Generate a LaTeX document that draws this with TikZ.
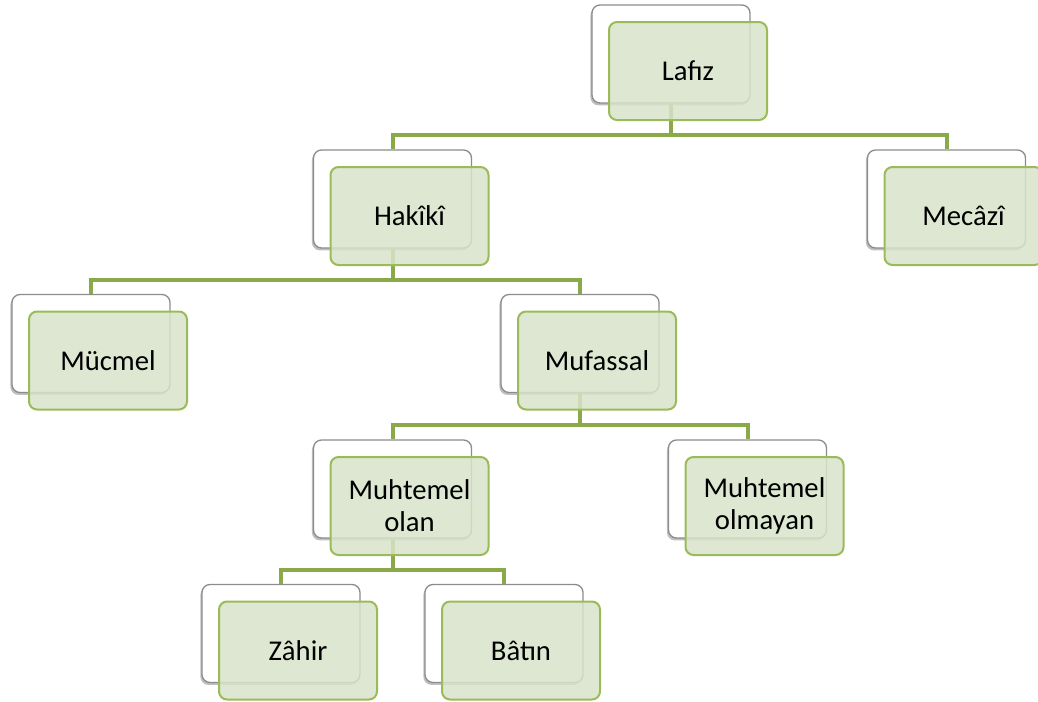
\documentclass[tikz,border=0pt]{standalone}
\usepackage{fontspec}
\setmainfont{Carlito}
\usetikzlibrary{shadows}

\definecolor{leafgreen}{RGB}{155,187,89}
\definecolor{linkgreen}{RGB}{138,170,74}
\definecolor{panelgreen}{RGB}{216,227,202}

\tikzset{
  backbox/.style={rectangle, rounded corners=6pt, minimum width=118.5pt,
    minimum height=73.5pt, inner sep=0pt, fill=white, draw=black!45,
    line width=1pt,
    drop shadow={shadow xshift=-1.2pt, shadow yshift=-1.8pt, opacity=0.5}},
  frontbox/.style={rectangle, rounded corners=6pt, minimum width=118.5pt,
    minimum height=73.5pt, inner sep=2pt, align=center,
    fill=panelgreen, fill opacity=0.85, text opacity=1, draw=leafgreen,
    line width=1.5pt, xshift=12.75pt, yshift=-12.75pt,
    font=\fontsize{21.5}{24}\selectfont},
  link/.style={linkgreen, line width=3pt}
}

\begin{document}
\begin{tikzpicture}[x=0.75pt, y=-0.75pt]
\useasboundingbox (0,0) rectangle (1038,701);

% back cards
\node[backbox] (lafizB)   at (671,54)    {};
\node[backbox] (hakikiB)  at (392.5,199) {};
\node[backbox] (mecaziB)  at (946.5,199) {};
\node[backbox] (mucmelB)  at (91,343.5)  {};
\node[backbox] (mufassalB) at (580,343.5) {};
\node[backbox] (olanB)    at (392.5,489) {};
\node[backbox] (olmayanB) at (747.5,489) {};
\node[backbox] (zahirB)   at (281,633.5) {};
\node[backbox] (batinB)   at (504,633.5) {};

% connectors
\draw[link] (lafizB.south) |- ++(0,31) -| (hakikiB.north);
\draw[link] (lafizB.south) |- ++(0,31) -| (mecaziB.north);
\draw[link] (hakikiB.south) |- ++(0,31) -| (mucmelB.north);
\draw[link] (hakikiB.south) |- ++(0,31) -| (mufassalB.north);
\draw[link] (mufassalB.south) |- ++(0,32) -| (olanB.north);
\draw[link] (mufassalB.south) |- ++(0,32) -| (olmayanB.north);
\draw[link] (olanB.south) |- ++(0,31) -| (zahirB.north);
\draw[link] (olanB.south) |- ++(0,31) -| (batinB.north);

% front cards
\node[frontbox] (lafiz)    at (lafizB)    {Lafız};
\node[frontbox] (hakiki)   at (hakikiB)   {Hakîkî};
\node[frontbox] (mecazi)   at (mecaziB)   {Mecâzî};
\node[frontbox] (mucmel)   at (mucmelB)   {Mücmel};
\node[frontbox] (mufassal) at (mufassalB) {Mufassal};
\node[frontbox] (olan)     at (olanB)     {Muhtemel\\olan};
\node[frontbox] (olmayan)  at (olmayanB)  {Muhtemel\\olmayan};
\node[frontbox] (zahir)    at (zahirB)    {Zâhir};
\node[frontbox] (batin)    at (batinB)    {Bâtın};

\end{tikzpicture}
\end{document}
